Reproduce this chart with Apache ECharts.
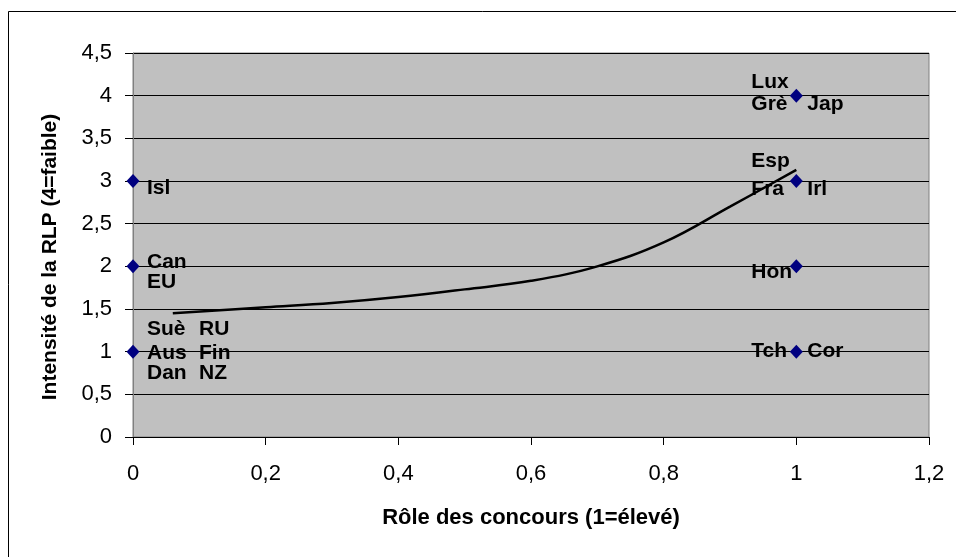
<!DOCTYPE html>
<html><head><meta charset="utf-8">
<script src="https://cdn.jsdelivr.net/npm/echarts@6/dist/echarts.min.js"></script>
<style>html,body{margin:0;padding:0;background:#fff}#c{width:956px;height:557px}</style>
</head><body><div id="c"></div>
<script>
// Data points (Rôle des concours, Intensité de la RLP)
const pointX = [0, 0, 0, 1, 1, 1, 1];
const pointY = [3, 2, 1, 4, 3, 2, 1];
// Country labels attached to points
const labelNames = ['Isl','Can','EU','Suè','RU','Aus','Fin','Dan','NZ','Lux','Grè','Jap','Esp','Fra','Irl','Hon','Tch','Cor'];
const labelX =     [0,    0,    0,   0,    0,   0,    0,    0,    0,   1,    1,    1,    1,    1,    1,    1,    1,    1];
const labelY =     [3,    2,    2,   1,    1,   1,    1,    1,    1,   4,    4,    4,    3,    3,    3,    2,    1,    1];
// Trend curve
const trendX = [0.06, 0.2, 0.3, 0.4, 0.5, 0.6, 0.7, 0.8, 0.9, 1.0];
const trendY = [1.45, 1.52, 1.57, 1.64, 1.73, 1.83, 2.00, 2.28, 2.70, 3.13];
const xTicks = [0, 0.2, 0.4, 0.6, 0.8, 1, 1.2];
const yTicks = [0, 0.5, 1, 1.5, 2, 2.5, 3, 3.5, 4, 4.5];

// label offsets (pixels from the point centre), style only
const labelOffsets = {
  Isl:[14,7], Can:[14,-4], EU:[14,15.5], 'Suè':[14,-22], RU:[66,-22], Aus:[14,1.5], Fin:[66,1.5], Dan:[14,22], NZ:[66,22],
  Lux:[-45,-13.5], 'Grè':[-45,8.5], Jap:[11,8.5], Esp:[-45,-20], Fra:[-45,8], Irl:[11,8], Hon:[-45,6], Tch:[-45,0], Cor:[11,0]
};

const fmt = v => String(v).replace('.', ',');
const FONT = '"Liberation Sans", Arial, sans-serif';

const chart = echarts.init(document.getElementById('c'), null, {renderer:'canvas'});
chart.setOption({
  animation: false,
  backgroundColor: '#ffffff',
  graphic: [{
    type: 'rect', z: -10, silent: true,
    shape: {x: 8.5, y: 11.5, width: 1200, height: 1200},
    style: {fill: 'none', stroke: '#000', lineWidth: 1}
  }],
  grid: {left: 133, top: 53, right: 27, bottom: 120, show: true, backgroundColor: '#C0C0C0', borderColor: '#808080', borderWidth: 1},
  xAxis: {
    type: 'value', min: xTicks[0], max: xTicks[xTicks.length-1], interval: 0.2,
    name: 'Rôle des concours (1=élevé)', nameLocation: 'middle', nameGap: 70,
    nameTextStyle: {fontFamily: FONT, fontWeight: 'bold', fontSize: 22, color: '#000'},
    axisLine: {show: true, lineStyle: {color: '#000', width: 1}},
    axisTick: {show: true, length: 8, lineStyle: {color: '#000'}},
    axisLabel: {margin: 26, fontFamily: FONT, fontSize: 22, color: '#000', formatter: v => fmt(+v.toFixed(1))},
    splitLine: {show: false}
  },
  yAxis: {
    type: 'value', min: yTicks[0], max: yTicks[yTicks.length-1], interval: 0.5,
    name: 'Intensité de la RLP (4=faible)', nameLocation: 'middle', nameGap: 72,
    nameTextStyle: {fontFamily: FONT, fontWeight: 'bold', fontSize: 21, color: '#000', padding: [0, 24, 0, 0]},
    axisLine: {show: true, lineStyle: {color: '#808080', width: 1}},
    axisTick: {show: true, length: 8, lineStyle: {color: '#000'}},
    axisLabel: {margin: 21, fontFamily: FONT, fontSize: 22, color: '#000', formatter: v => fmt(+v.toFixed(1))},
    splitLine: {show: true, lineStyle: {color: '#000', width: 1}}
  },
  series: [
    {
      type: 'line', data: trendX.map((x, i) => [x, trendY[i]]), smooth: 0.4, showSymbol: false, symbol: 'none',
      lineStyle: {color: '#000', width: 2.5}, z: 3, silent: true
    },
    {
      type: 'scatter', data: pointX.map((x, i) => [x, pointY[i]]), symbol: 'diamond', symbolSize: [13, 14],
      itemStyle: {color: '#000080', opacity: 1}, z: 5
    },
    {
      type: 'scatter', silent: true, z: 6, symbolSize: 1, itemStyle: {color: 'rgba(0,0,0,0)'},
      data: labelNames.map((n, i) => ({
        value: [labelX[i], labelY[i]], name: n,
        label: {show: true, position: 'inside', align: 'left', verticalAlign: 'middle', offset: labelOffsets[n],
          formatter: n, fontFamily: FONT, fontWeight: 'bold', fontSize: 21, color: '#000', textBorderWidth: 0, opacity: 1}
      }))
    }
  ]
});
</script></body></html>
